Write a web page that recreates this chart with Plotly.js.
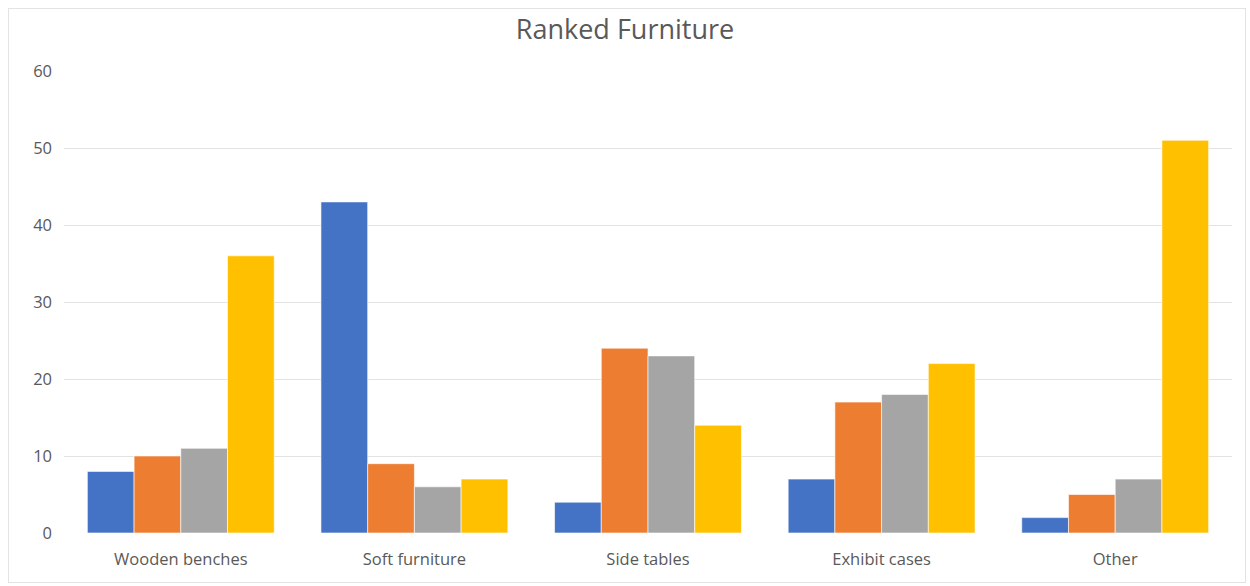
<!DOCTYPE html>
<html>
<head>
<meta charset="utf-8">
<script src="https://cdn.plot.ly/plotly-3.0.1.min.js"></script>
<style>
html,body{margin:0;padding:0;background:#fff;}
#wrap{position:relative;width:1250px;height:586px;}
#chart{width:1250px;height:586px;}
#frame{position:absolute;left:8px;top:8px;width:1236px;height:573px;border:1px solid #e3e3e3;pointer-events:none;}
</style>
</head>
<body>
<div id="wrap"><div id="chart"></div><div id="frame"></div></div>
<script>
const categories = ["Wooden benches", "Soft furniture", "Side tables", "Exhibit cases", "Other"];
const seriesNames = ["Rank 1", "Rank 2", "Rank 3", "Rank 4"];
const rank1 = [8, 43, 4, 7, 2];
const rank2 = [10, 9, 24, 17, 5];
const rank3 = [11, 6, 23, 18, 7];
const rank4 = [36, 7, 14, 22, 51];
const colors = ["#4472C4", "#ED7D31", "#A5A5A5", "#FFC000"];
const tickVals = [0, 10, 20, 30, 40, 50, 60];

const allSeries = [rank1, rank2, rank3, rank4];
const traces = allSeries.map((vals, i) => ({
  type: "bar",
  name: seriesNames[i],
  x: categories,
  y: vals,
  marker: {color: colors[i], line: {color: "#ffffff", width: 0.6}},
  hoverinfo: "x+y+name"
}));

const layout = {
  width: 1250,
  height: 586,
  margin: {l: 64, r: 18, t: 71, b: 53},
  paper_bgcolor: "#ffffff",
  plot_bgcolor: "#ffffff",
  showlegend: false,
  barmode: "group",
  bargap: 0.2,
  bargroupgap: 0,
  title: {
    text: "Ranked Furniture",
    x: 0.5, xanchor: "center",
    y: 0.949, yanchor: "middle",
    font: {family: "Open Sans, sans-serif", size: 27, color: "#595959"}
  },
  font: {family: "Open Sans, sans-serif", color: "#595959"},
  xaxis: {
    showgrid: false,
    zeroline: false,
    showline: false,
    ticks: "",
    ticklabelstandoff: 14,
    tickfont: {size: 16.5, color: "#595959"},
    automargin: false
  },
  yaxis: {
    range: [0, 60],
    tickvals: tickVals,
    ticktext: tickVals.map(String),
    showgrid: true,
    gridcolor: "#e3e3e3",
    gridwidth: 1,
    zeroline: false,
    showline: false,
    ticks: "",
    ticklabelstandoff: 11,
    tickfont: {size: 16.5, color: "#595959"},
    automargin: false
  }
};

Plotly.newPlot("chart", traces, layout, {displayModeBar: false, staticPlot: false});
</script>
</body>
</html>
